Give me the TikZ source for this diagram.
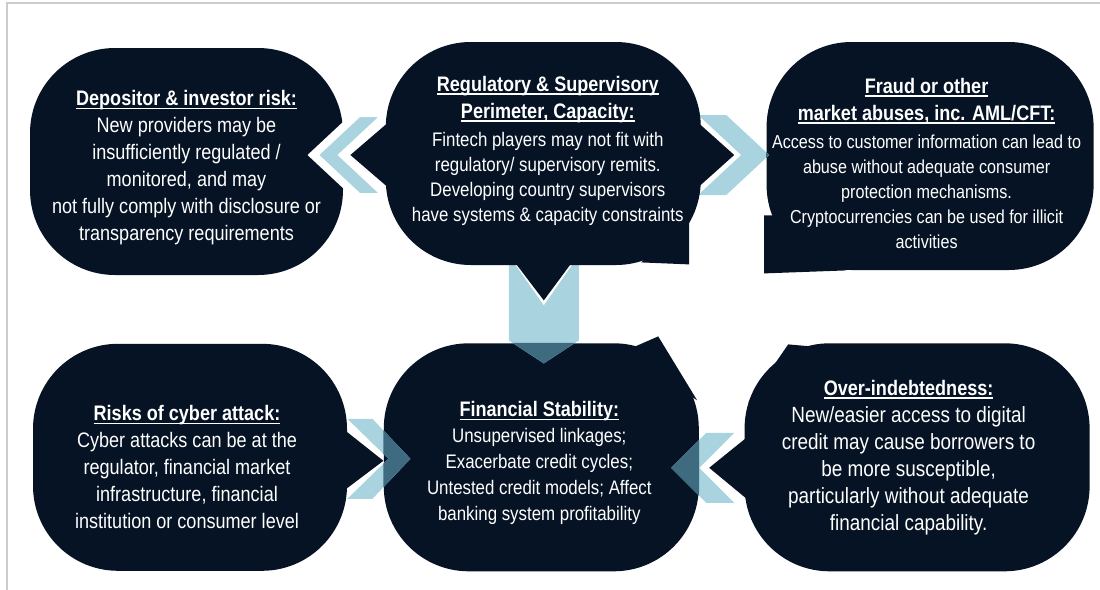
\documentclass[tikz,border=0pt]{standalone}
\usepackage{fontspec}
\setmainfont[FakeStretch=0.86]{Liberation Sans}
\usetikzlibrary{positioning,calc}

\definecolor{navy}{HTML}{061325}
\definecolor{chevblue}{HTML}{A9D3DF}
\definecolor{chevdark}{HTML}{3E6B80}

\pgfdeclarelayer{front}
\pgfsetlayers{main,front}

% heading line: bold and underlined
\newsavebox{\hdbox}
\newcommand{\hd}[1]{\sbox{\hdbox}{\bfseries #1}\rlap{\rule[-1.8pt]{\wd\hdbox}{0.7pt}}\usebox{\hdbox}}
% chevron pointing right, tip at the origin: {depth}{width}{notch}{half height}
\newcommand{\chevron}[4]{(0,0) -- (-#1,-#4) -- ({-#1-#2},-#4) -- (-#3,0) -- ({-#1-#2},#4) -- (-#1,#4) -- cycle}

\begin{document}
\begin{tikzpicture}[
    x=0.5pt, y=-0.5pt,
    bubble/.style={fill=navy, rounded corners=42.5pt, inner sep=0pt},
    txt/.style={text=white, align=center, inner sep=0pt,
                font=\fontsize{10.5}{13.5}\selectfont},
    chev/.style={fill=chevblue},
    overlap/.style={fill=chevdark}
  ]

  \useasboundingbox (0,0) rectangle (1100,590);
  \fill[white] (0,0) rectangle (1100,590);
  \draw[black!20, line width=1.2pt] (7,590) -- (7,3) -- (1100,3);

  % bubbles
  \node[bubble, minimum width=156.5pt, minimum height=113.5pt] (dep) at (186.5,161.5) {};
  \begin{pgfonlayer}{front}
    \node[bubble, minimum width=157.5pt, minimum height=111.5pt,
          right=21pt of dep, yshift=4pt] (reg) {};
  \end{pgfonlayer}
  \node[bubble, minimum width=163.5pt, minimum height=114pt,
        right=32.5pt of reg, yshift=-1.25pt] (fraud) {};
  \node[bubble, minimum width=157pt, minimum height=113.5pt,
        below=34pt of dep, xshift=1.75pt] (cyber) {};
  \node[bubble, minimum width=157.5pt, minimum height=114pt, right=18pt of cyber] (fin) {};
  \node[bubble, minimum width=172.5pt, minimum height=114pt, right=22.5pt of fin] (over) {};

  % pointers and tails
  \fill[navy] ($(fraud.south west)+(-2,3)$) -- ($(fraud.south west)+(-2,-55)$)
              -- ($(fraud.south west)+(45,-55)$) -- ($(fraud.south west)+(80,0)$) -- cycle;
  \fill[navy] ($(cyber.east)+(-17,-38.5)$) -- ($(cyber.east)+(36,3.5)$) -- ($(cyber.east)+(-17,43.5)$) -- cycle;
  \fill[navy] ($(fin.north east)+(-73,7.5)$) -- ($(fin.north east)+(-41,-6.5)$) -- ($(fin.north east)+(-2,57.5)$) -- cycle;
  \fill[navy] ($(over.west)+(17,-31.5)$) -- ($(over.west)+(-35,10.5)$) -- ($(over.west)+(17,53.5)$) -- cycle;
  \fill[navy] ($(over.north west)+(4,59.5)$) -- ($(over.north west)+(44,1.5)$) -- ($(over.north west)+(67,3.5)$) -- cycle;

  % chevrons
  \coordinate (c1) at ($(reg.west)+(-72,1.5)$);
  \coordinate (c2) at ($(reg.east)+(68,1.5)$);
  \coordinate (c3) at ($(reg.south)+(0.5,98)$);
  \coordinate (c4) at ($(cyber.east)+(63,1.5)$);
  \coordinate (c5) at ($(over.west)+(-73,10.5)$);

  \filldraw[chev, draw=white, line width=4pt, shift={(c1)}, xscale=-1] \chevron{45}{30}{30}{42};
  \fill[chev, shift={(c2)}] \chevron{43}{28}{28}{40};
  \fill[chev, shift={(c3)}, rotate=-90] \chevron{23}{85}{58}{35};
  \fill[chev, shift={(c4)}] \chevron{38}{25}{22}{40};
  \fill[chev, shift={(c5)}, xscale=-1] \chevron{35}{28}{28}{35};

  \begin{scope}
    \clip[rounded corners=42.5pt] (fraud.south west) rectangle (fraud.north east);
    \fill[overlap, shift={(c2)}] \chevron{43}{28}{28}{40};
  \end{scope}
  \begin{scope}
    \clip[rounded corners=42.5pt] (fin.south west) rectangle (fin.north east);
    \fill[overlap, shift={(c3)}, rotate=-90] \chevron{23}{85}{58}{35};
    \fill[overlap, shift={(c4)}] \chevron{38}{25}{22}{40};
    \fill[overlap, shift={(c5)}, xscale=-1] \chevron{35}{28}{28}{35};
  \end{scope}

  \begin{pgfonlayer}{front}
    \fill[navy] ($(reg.west)+(15,-41.5)$) -- ($(reg.west)+(-35,1.5)$) -- ($(reg.west)+(15,44.5)$) -- cycle;
    \fill[navy] ($(reg.east)+(-15,-41.5)$) -- ($(reg.east)+(33,1.5)$) -- ($(reg.east)+(-15,44.5)$) -- cycle;
    \fill[navy] ($(reg.south)+(-37.5,-15)$) -- ($(reg.south)+(0.5,35)$) -- ($(reg.south)+(37.5,-15)$) -- cycle;
    \fill[navy] ($(reg.south east)+(-60,-3)$) -- ($(reg.south east)+(-12,-1)$) -- ($(reg.south east)+(-12,-50)$) -- cycle;

    % texts
    \node[txt] (dep-t) at ([yshift=-3pt]dep.center)
      {\hd{Depositor \& investor risk:}\\ New providers may be\\ insufficiently regulated /\\
       monitored, and may\\ not fully comply with disclosure or\\ transparency requirements};
    \node[txt, font=\fontsize{9.8}{12.5}\selectfont] (reg-t) at ([xshift=2.25pt, yshift=1.5pt]reg.center)
      {{\fontsize{10.5}{12.5}\selectfont\hd{Regulatory \& Supervisory}}\\[1pt]
       {\fontsize{10.5}{12.5}\selectfont\hd{Perimeter, Capacity:}}\\[1.5pt]
       Fintech players may not fit with\\ regulatory/ supervisory remits.\\
       Developing country supervisors\\ have systems \& capacity constraints};
    \node[txt, font=\fontsize{9.4}{12.5}\selectfont] (fraud-t) at ([xshift=-1.75pt, yshift=-3.5pt]fraud.center)
      {{\fontsize{10.5}{12.5}\selectfont\hd{Fraud or other}}\\[1pt]
       {\fontsize{10.5}{12.5}\selectfont\hd{market abuses, inc. AML/CFT:}}\\[1.5pt]
       Access to customer information can lead to\\ abuse without adequate consumer\\
       protection mechanisms.\\ Cryptocurrencies can be used for illicit\\ activities};
    \node[txt] (cyber-t) at ([xshift=-1.5pt, yshift=-4.75pt]cyber.center)
      {\hd{Risks of cyber attack:}\\ Cyber attacks can be at the\\ regulator, financial market\\
       infrastructure, financial\\ institution or consumer level};
    \node[txt, font=\fontsize{9.8}{13}\selectfont] (fin-t) at ([xshift=-1pt, yshift=-3pt]fin.center)
      {{\fontsize{10.5}{13}\selectfont\hd{Financial Stability:}}\\ Unsupervised linkages;\\
       Exacerbate credit cycles;\\ Untested credit models; Affect\\ banking system profitability};
    \node[txt, font=\fontsize{11}{13.5}\selectfont] (over-t) at ([xshift=-4.25pt]over.center)
      {{\fontsize{10.5}{13.5}\selectfont\hd{Over-indebtedness:}}\\ New/easier access to digital\\
       credit may cause borrowers to\\ be more susceptible,\\ particularly without adequate\\
       financial capability.};
  \end{pgfonlayer}
\end{tikzpicture}
\end{document}
